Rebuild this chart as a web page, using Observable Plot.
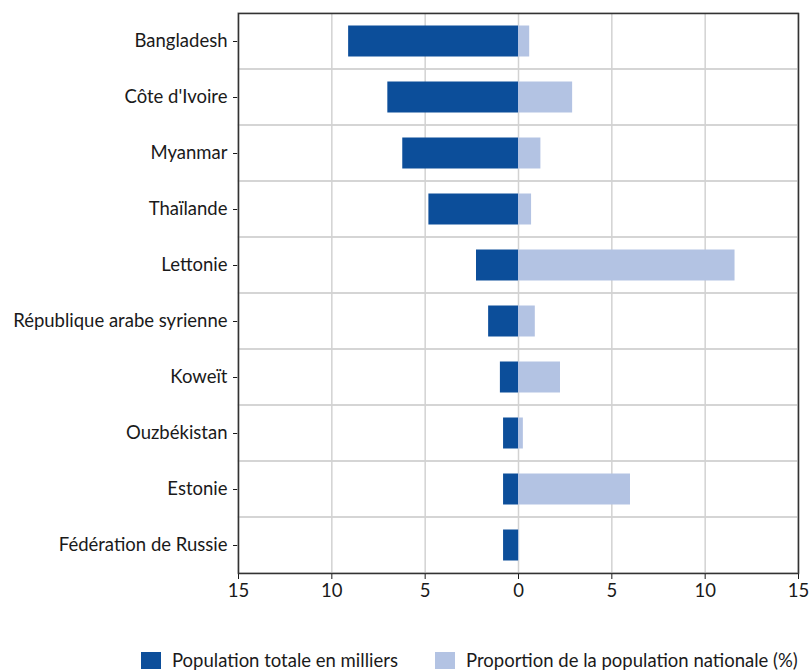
<!DOCTYPE html>
<html>
<head>
<meta charset="utf-8">
<script src="https://cdn.jsdelivr.net/npm/d3@7"></script>
<script src="https://cdn.jsdelivr.net/npm/@observablehq/plot@0.6"></script>
<style>
  body { margin: 0; background: #fff; font-family: Lato, "Open Sans", sans-serif; }
  #legend { position: relative; height: 70px; font-size: 18.5px; line-height: 20px; color: #1a1a1a; }
  .item { position: absolute; top: 50px; display: flex; align-items: center; white-space: nowrap; }
  .sw { width: 20px; height: 17px; margin-right: 11px; }
</style>
</head>
<body>
<div id="chart"></div>
<div id="legend"></div>
<script>
const countries = ["Bangladesh", "Côte d'Ivoire", "Myanmar", "Thaïlande", "Lettonie",
  "République arabe syrienne", "Koweït", "Ouzbékistan", "Estonie", "Fédération de Russie"];
const populationMilliers = [9.1, 7.0, 6.2, 4.8, 2.25, 1.6, 0.97, 0.8, 0.8, 0.8];
const proportionPct = [0.6, 2.9, 1.2, 0.7, 11.6, 0.9, 2.25, 0.26, 6.0, 0.05];
const xTicks = [-15, -10, -5, 0, 5, 10, 15];
const seriesNames = ["Population totale en milliers", "Proportion de la population nationale (%)"];
const colors = ["#0c4e9a", "#b3c3e3"];

const rows = countries.map((c, i) => ({country: c, pop: -populationMilliers[i], pct: proportionPct[i]}));

const chart = Plot.plot({
  width: 809,
  height: 600,
  marginLeft: 238,
  marginRight: 11,
  marginTop: 13,
  marginBottom: 27,
  style: {fontFamily: "Lato, 'Open Sans', sans-serif", fontSize: "18.5px", color: "#1a1a1a", background: "#fff"},
  x: {domain: [-15, 15], ticks: xTicks, tickFormat: d => Math.abs(d), tickSize: 6, tickPadding: 4, label: null},
  y: {domain: countries, padding: 0, tickSize: 5, tickPadding: 6, label: null},
  marks: [
    Plot.ruleX(xTicks, {stroke: "#d2d2d2", strokeWidth: 1.5}),
    Plot.barX(countries, {y: d => d, x1: -15, x2: 15, fill: "none", stroke: "#d2d2d2", strokeWidth: 1.5}),
    Plot.barX(rows, {y: "country", x1: 0, x2: "pop", fill: colors[0], insetTop: 12.5, insetBottom: 12.5}),
    Plot.barX(rows, {y: "country", x1: 0, x2: "pct", fill: colors[1], insetTop: 12.5, insetBottom: 12.5}),
    Plot.frame({stroke: "#333", strokeWidth: 1.5})
  ]
});
document.getElementById("chart").appendChild(chart);

const legend = document.getElementById("legend");
const lefts = [141, 435];
seriesNames.forEach((name, i) => {
  const item = document.createElement("div");
  item.className = "item";
  item.style.left = lefts[i] + "px";
  const sw = document.createElement("span");
  sw.className = "sw";
  sw.style.background = colors[i];
  const t = document.createElement("span");
  t.textContent = name;
  item.appendChild(sw);
  item.appendChild(t);
  legend.appendChild(item);
});
</script>
</body>
</html>
